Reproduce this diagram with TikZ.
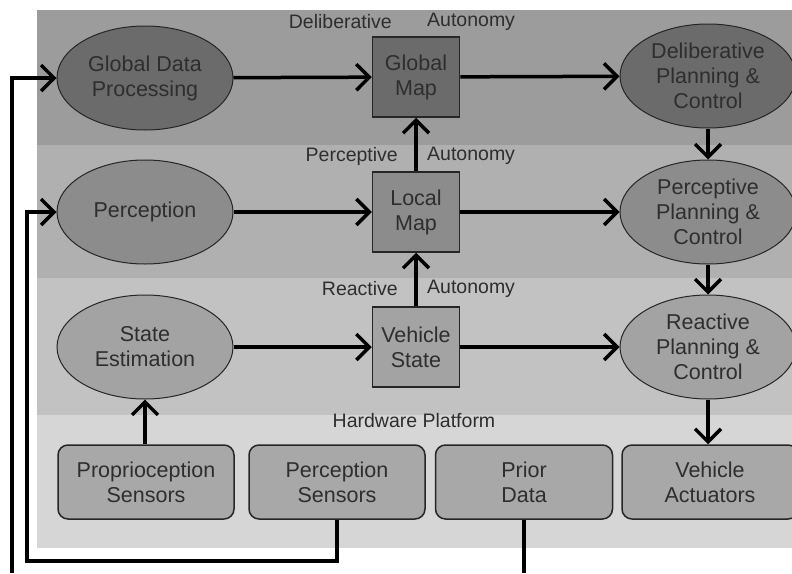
\documentclass[tikz,border=0pt]{standalone}
\usepackage{fontspec}
\setmainfont{Liberation Sans}
\usetikzlibrary{shapes.geometric,arrows.meta}
\definecolor{bandD}{gray}{0.61}
\definecolor{bandP}{gray}{0.69}
\definecolor{bandR}{gray}{0.76}
\definecolor{bandH}{gray}{0.84}
\definecolor{fillD}{gray}{0.42}
\definecolor{fillP}{gray}{0.55}
\definecolor{fillR}{gray}{0.64}
\definecolor{fillH}{gray}{0.66}
\definecolor{txt}{gray}{0.18}
\tikzset{
  ell/.style={ellipse, draw=black!85, line width=1pt, minimum width=176pt, minimum height=104pt, inner sep=0pt, align=center, text=txt, font=\fontsize{21.5}{25}\selectfont},
  mapbox/.style={rectangle, draw=black!85, line width=1.5pt, minimum width=87pt, minimum height=80pt, inner sep=0pt, align=center, text=txt, font=\fontsize{21.5}{25}\selectfont},
  hwbox/.style={rectangle, rounded corners=10pt, draw=black!85, line width=1.5pt, minimum height=74pt, inner sep=0pt, align=center, text=txt, fill=fillH, font=\fontsize{21.5}{25}\selectfont},
  lbl/.style={text=txt, font=\fontsize{19.5}{22}\selectfont, inner sep=0pt},
  conn/.style={line width=3.5pt, -{Straight Barb[length=13pt,width=26pt,line width=3.5pt]}},
  plain/.style={line width=3.5pt}
}
\begin{document}
\begin{tikzpicture}[x=1pt,y=-1pt]
\useasboundingbox (0,0) rectangle (792,573);
\fill[white] (0,0) rectangle (792,573);
% bands
\fill[bandD] (37,10) rectangle (792,145);
\fill[bandP] (37,145) rectangle (792,278);
\fill[bandR] (37,278) rectangle (792,415);
\fill[bandH] (37,415) rectangle (792,548);
% labels
\node[lbl, anchor=east] (ldel) at (392,22) {Deliberative};
\node[lbl, anchor=west] (ldela) at (427,22) {Autonomy};
\node[lbl, anchor=east] (lper) at (398,156) {Perceptive};
\node[lbl, anchor=west] (lpera) at (427,156) {Autonomy};
\node[lbl, anchor=east] (lrea) at (398,289) {Reactive};
\node[lbl, anchor=west] (lreaa) at (427,289) {Autonomy};
\node[lbl] (lhw) at (414,421) {Hardware Platform};
% nodes
\node[ell, fill=fillD] (gdp) at (145,78) {Global Data\\Processing};
\node[ell, fill=fillP] (perc) at (145,212) {Perception};
\node[ell, fill=fillR] (se) at (145,347) {State\\Estimation};
\node[mapbox, fill=fillD] (gm) at (416,77) {Global\\Map};
\node[mapbox, fill=fillP] (lm) at (416,212) {Local\\Map};
\node[mapbox, fill=fillR] (vs) at (416,347) {Vehicle\\State};
\node[ell, fill=fillD] (dpc) at (708,76) {Deliberative\\Planning \&\\Control};
\node[ell, fill=fillP] (ppc) at (708,212) {Perceptive\\Planning \&\\Control};
\node[ell, fill=fillR] (rpc) at (708,347) {Reactive\\Planning \&\\Control};
\node[hwbox, minimum width=176pt] (ps) at (146,482) {Proprioception\\Sensors};
\node[hwbox, minimum width=176pt] (pes) at (337,482) {Perception\\Sensors};
\node[hwbox, minimum width=177pt] (pd) at (524,482) {Prior\\Data};
\node[hwbox, minimum width=176pt] (va) at (710,482) {Vehicle\\Actuators};
% connectors
\draw[conn] (gdp) -- (gm);
\draw[conn] (gm) -- (dpc);
\draw[conn] (perc) -- (lm);
\draw[conn] (lm) -- (ppc);
\draw[conn] (se) -- (vs);
\draw[conn] (vs) -- (rpc);
\draw[conn] (lm) -- (gm);
\draw[conn] (vs) -- (lm);
\draw[conn] (dpc) -- (ppc);
\draw[conn] (ppc) -- (rpc);
\draw[conn] (rpc.south) -- (va.north -| rpc.south);
\draw[conn] (ps.north -| se.south) -- (se.south);
% feedback lines
\coordinate (outerbot) at (12,573);
\coordinate (priorbot) at (524,573);
\draw[conn] (outerbot) -- (12,78) -- (gdp.west);
\draw[plain] (pd.south) -- (priorbot);
\draw[conn] (pes.south) -- (337,561) -- (27,561) -- (27,212) -- (perc.west);
\end{tikzpicture}
\end{document}
